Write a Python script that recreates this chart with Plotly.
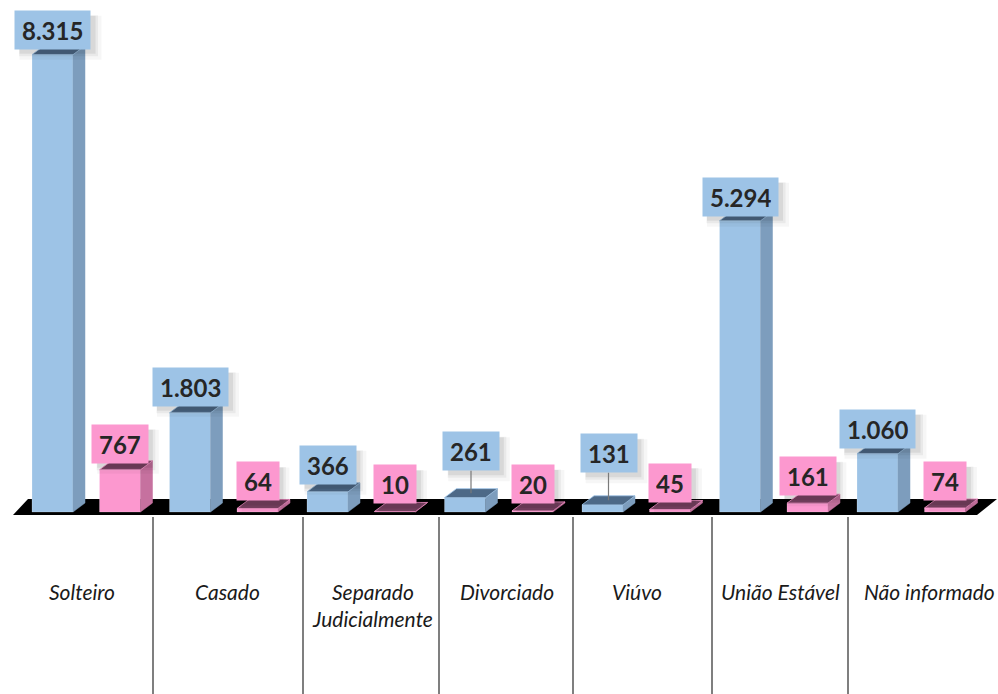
import plotly.graph_objects as go

# ---------------- data ----------------
categories = ["Solteiro", "Casado", "Separado<br>Judicialmente", "Divorciado",
              "Viúvo", "União Estável", "Não informado"]
blue_values = [8315, 1803, 366, 261, 131, 5294, 1060]
pink_values = [767, 64, 10, 20, 45, 161, 74]

# ---------------- layout constants ----------------
W, H = 998, 694
PX_PER_CAT = 137.5      # pixels per category step
CAT0_PX = 86.25         # pixel x of first category centre
PX_PER_UNIT = 0.055     # pixels per value unit
BASE_PX = 512           # pixel y of value 0

x_range = [(0 - CAT0_PX) / PX_PER_CAT, (W - CAT0_PX) / PX_PER_CAT]
y_range = [(BASE_PX - H) / PX_PER_UNIT, BASE_PX / PX_PER_UNIT]

DX = 12 / PX_PER_CAT    # 3D depth, x
DY = 9 / PX_PER_UNIT    # 3D depth, y
BAR_W = 41 / PX_PER_CAT
OFF = 33.75 / PX_PER_CAT

series = [
    dict(values=blue_values, sign=-1, front="#9dc3e6", side="#7d9dbd", top="#4d6987",
         lift=[6, 7, 8, 19, 24, 5, 6]),
    dict(values=pink_values, sign=1, front="#fc98cf", side="#c6719f", top="#7c4464",
         lift=[7, 8, 8, 8, 8, 8, 8]),
]


def fmt(v):
    return f"{v:,}".replace(",", ".")


def box_width(txt):
    # approximate outer width of a label box (Lato bold 24 + padding)
    return sum(6.5 if c == "." else 13.9 for c in txt) + 14


fig = go.Figure()
annotations = []
shapes = []
FONT = "Lato"
LBL_SIZE = 24
HALF = 19

for s in series:
    vals = s["values"]
    xs = [i + s["sign"] * OFF for i in range(len(vals))]
    # front faces
    fig.add_trace(go.Bar(x=xs, y=vals, width=BAR_W, marker=dict(color=s["front"],
                  line=dict(color="rgba(255,255,255,0.35)", width=0.6)),
                  hoverinfo="skip", showlegend=False))
    # side faces and top faces
    sx, sy, tx, ty = [], [], [], []
    for xc, v in zip(xs, vals):
        xl, xr = xc - BAR_W / 2, xc + BAR_W / 2
        sx += [xr, xr + DX, xr + DX, xr, xr, None]
        sy += [0, DY, v + DY, v, 0, None]
        tx += [xl, xr, xr + DX, xl + DX, xl, None]
        ty += [v, v, v + DY, v + DY, v, None]
    fig.add_trace(go.Scatter(x=sx, y=sy, mode="lines", fill="toself", fillcolor=s["side"],
                             line=dict(color=s["side"], width=0.5), hoverinfo="skip",
                             showlegend=False))
    fig.add_trace(go.Scatter(x=tx, y=ty, mode="lines", fill="toself", fillcolor=s["top"],
                             line=dict(color=s["front"], width=0.8), hoverinfo="skip",
                             showlegend=False))
    # value labels
    for xc, v, lift in zip(xs, vals, s["lift"]):
        txt = fmt(v)
        leader = lift > 12
        if leader:
            axv, ayv = xc + DX / 2, v + DY / 2
            ay0 = -(lift + HALF) - 4
        else:
            axv, ayv = xc, v
            ay0 = -(lift + HALF)
        w = box_width(txt)
        cy = -ay0  # box centre, pixels above anchor
        # soft shadow (layers of translucent rectangles)
        for alpha, off, grow in [(0.035, 8, 3), (0.05, 6, 1.5), (0.07, 5, 0)]:
            shapes.append(dict(
                type="rect", layer="above", xref="x", yref="y",
                xsizemode="pixel", ysizemode="pixel", xanchor=axv, yanchor=ayv,
                x0=-w / 2 + off - grow, x1=w / 2 + off + grow,
                y0=cy - HALF - off - grow, y1=cy + HALF - off + grow,
                fillcolor=f"rgba(0,0,0,{alpha})", line=dict(width=0)))
        annotations.append(dict(
            x=axv, y=ayv, xref="x", yref="y", text=f"<b>{txt}</b>",
            showarrow=True, arrowhead=0, arrowwidth=1.2,
            arrowcolor="#7a7a7a" if leader else "rgba(0,0,0,0)",
            ax=0, ay=ay0,
            font=dict(family=FONT, size=LBL_SIZE, color="#262626"),
            bgcolor=s["front"], borderpad=7, height=24))

# category labels (pixel centres)
label_px = [82, 227.5, 372.5, 507, 637, 780, 929]
for cat, px in zip(categories, label_px):
    annotations.append(dict(
        x=px / W, y=1 - 577 / H, xref="paper", yref="paper",
        xanchor="center", yanchor="top", showarrow=False, text=f"<i>{cat}</i>",
        font=dict(family=FONT, size=21, color="#1a1a1a")))

# floor
fl_top = (BASE_PX - 499) / PX_PER_UNIT
fl_bot = (BASE_PX - 515) / PX_PER_UNIT
fx = lambda p: (p - CAT0_PX) / PX_PER_CAT
shapes.append(dict(type="path", xref="x", yref="y", layer="below",
                   path=f"M {fx(13)},{fl_bot} L {fx(28)},{fl_top} L {fx(997)},{fl_top} "
                        f"L {fx(977)},{fl_bot} Z",
                   fillcolor="black", line=dict(width=0)))
# separators
for p in [153, 303, 439, 573, 712, 848]:
    xp = p / W
    shapes.append(dict(type="line", xref="paper", yref="paper", x0=xp, x1=xp,
                       y0=1 - 517 / H, y1=0,
                       line=dict(color="#555555", width=1.5)))

fig.update_layout(
    width=W, height=H, autosize=False,
    margin=dict(l=0, r=0, t=0, b=0),
    paper_bgcolor="white", plot_bgcolor="white",
    barmode="overlay", showlegend=False,
    xaxis=dict(range=x_range, visible=False, fixedrange=True),
    yaxis=dict(range=y_range, visible=False, fixedrange=True),
    annotations=annotations, shapes=shapes,
)

fig.write_html(
    "out.html",
    config={"displayModeBar": False},
    post_script="document.body.style.margin='0';document.body.style.overflow='hidden';",
)
